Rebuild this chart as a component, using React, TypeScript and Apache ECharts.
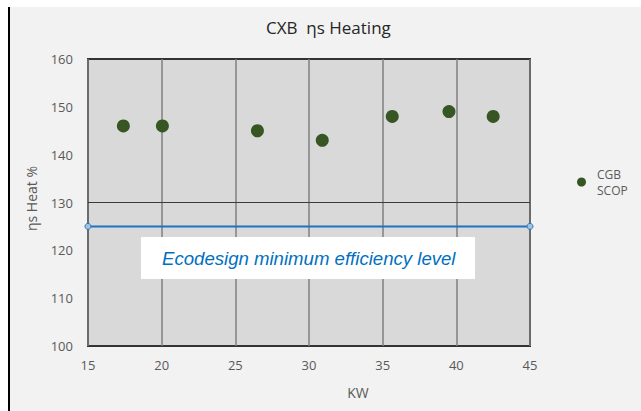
import React, { useEffect, useRef } from "react";
import * as echarts from "echarts";

const chartTitle = "CXB  ηs Heating";
const xAxisName = "KW";
const yAxisName = "ηs Heat %";
const seriesName = "CGB\nSCOP";
const kwValues = [17.4, 20.05, 26.5, 30.9, 35.65, 39.5, 42.5];
const scopValues = [146, 146, 145, 143, 148, 149, 148];
const xMin = 15;
const xMax = 45;
const xInterval = 5;
const yMin = 100;
const yMax = 160;
const yInterval = 10;
const ecodesignMin = 125;
const referenceLine = 130;
const ecodesignLabel = "Ecodesign minimum efficiency level";

export default function App() {
  const ref = useRef<HTMLDivElement>(null);
  useEffect(() => {
    if (!ref.current) return;
    const chart = echarts.init(ref.current, null, { renderer: "svg" });
    const font = "'Open Sans', sans-serif";
    chart.setOption({
      animation: false,
      backgroundColor: "transparent",
      title: {
        text: chartTitle,
        left: 266,
        top: 19,
        padding: 0,
        textStyle: { fontFamily: font, fontSize: 17, fontWeight: "normal", color: "#262626" },
      },
      legend: {
        data: [seriesName],
        left: 577,
        top: 158,
        padding: 0,
        itemWidth: 9,
        itemHeight: 9,
        icon: "circle",
        textStyle: {
          fontFamily: font,
          fontSize: 12,
          color: "#595959",
          lineHeight: 16,
          padding: [16, 0, 0, 6],
        },
      },
      grid: {
        left: 88,
        right: 111,
        top: 59,
        bottom: 65,
        show: true,
        backgroundColor: "#d9d9d9",
        borderColor: "#333333",
        borderWidth: 2,
      },
      xAxis: {
        type: "value",
        min: xMin,
        max: xMax,
        interval: xInterval,
        axisLine: { show: false },
        axisTick: { show: false },
        axisLabel: { fontFamily: font, fontSize: 13, color: "#595959", margin: 12 },
        splitLine: { show: true, lineStyle: { color: "#7f7f7f", width: 1.5 } },
      },
      yAxis: {
        type: "value",
        min: yMin,
        max: yMax,
        interval: yInterval,
        name: yAxisName,
        nameLocation: "middle",
        nameGap: 50,
        nameTextStyle: { fontFamily: font, fontSize: 14, color: "#595959", padding: [0, 0, 0, 8] },
        axisLine: { show: false },
        axisTick: { show: false },
        axisLabel: { fontFamily: font, fontSize: 13, color: "#595959", margin: 15 },
        splitLine: { show: false },
      },
      graphic: [
        {
          type: "rect",
          z: 100,
          shape: { x: 141, y: 237, width: 334, height: 42 },
          style: { fill: "#ffffff" },
        },
        {
          type: "text",
          z: 101,
          x: 162,
          y: 258,
          style: {
            text: ecodesignLabel,
            fontFamily: "'Liberation Sans', Arial, sans-serif",
            fontStyle: "italic",
            fontSize: 18.6,
            fill: "#0070c0",
            verticalAlign: "middle",
          },
        },
        {
          type: "text",
          x: 358,
          y: 392,
          style: {
            text: xAxisName,
            fontFamily: font,
            fontSize: 14,
            fill: "#595959",
            align: "center",
            verticalAlign: "middle",
          },
        },
      ],
      series: [
        {
          name: "reference",
          type: "line",
          silent: true,
          symbol: "none",
          data: [
            [xMin, referenceLine],
            [xMax, referenceLine],
          ],
          lineStyle: { color: "#3a3a3a", width: 1.2 },
          z: 2,
        },
        {
          name: "ecodesign",
          type: "line",
          silent: true,
          symbol: "circle",
          symbolSize: 6,
          data: [
            [xMin, ecodesignMin],
            [xMax, ecodesignMin],
          ],
          lineStyle: { color: "#1f73c0", width: 2 },
          itemStyle: { color: "#9dc3e6", borderColor: "#2e75b6", borderWidth: 1 },
          z: 3,
        },
        {
          name: seriesName,
          type: "scatter",
          symbolSize: 13,
          data: kwValues.map((x, i) => [x, scopValues[i]]),
          itemStyle: { color: "#375623", opacity: 1 },
          z: 4,
        },
      ],
    });
    return () => chart.dispose();
  }, []);
  return (
    <div style={{ position: "fixed", left: 0, top: 0, width: 641, height: 411, background: "#ffffff" }}>
      <div
        style={{
          position: "absolute",
          left: 8,
          top: 7,
          width: 631,
          height: 404,
          background: "#f2f2f2",
          borderLeft: "2px solid #000000",
        }}
      />
      <div ref={ref} style={{ position: "absolute", left: 0, top: 0, width: 641, height: 411 }} />
    </div>
  );
}
